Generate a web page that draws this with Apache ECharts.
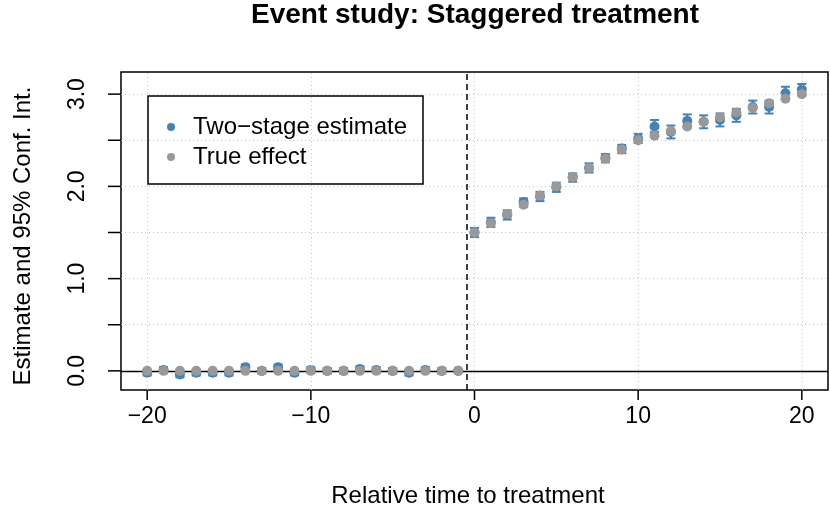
<!DOCTYPE html>
<html>
<head>
<meta charset="utf-8">
<title>Event study</title>
<script src="https://cdn.jsdelivr.net/npm/echarts@6/dist/echarts.min.js"></script>
<style>
  html, body { margin: 0; padding: 0; background: #fff; }
  #chart { width: 830px; height: 513px; }
</style>
</head>
<body>
<div id="chart"></div>
<script>
// relative periods -20 .. 20
const periods = [-20, -19, -18, -17, -16, -15, -14, -13, -12, -11, -10, -9, -8, -7, -6, -5, -4, -3, -2, -1,
  0, 1, 2, 3, 4, 5, 6, 7, 8, 9, 10, 11, 12, 13, 14, 15, 16, 17, 18, 19, 20]
// two-stage estimate
const estimate = [-0.02, 0.01, -0.04, -0.02, -0.02, -0.02, 0.04, 0.0, 0.04, -0.02,
  0.01, 0.0, 0.0, 0.02, 0.01, 0.0, -0.02, 0.01, 0.0, 0.0,
  1.50, 1.61, 1.69, 1.83, 1.89, 1.99, 2.10, 2.20, 2.31, 2.41,
  2.52, 2.65, 2.59, 2.71, 2.70, 2.72, 2.77, 2.86, 2.86, 3.01, 3.05]
// 95% confidence interval
const ciLow = [-0.05, -0.02, -0.07, -0.05, -0.05, -0.05, 0.01, -0.03, 0.01, -0.05,
  -0.02, -0.03, -0.03, -0.01, -0.02, -0.03, -0.05, -0.02, -0.03, null,
  1.45, 1.56, 1.64, 1.78, 1.84, 1.94, 2.05, 2.15, 2.26, 2.36,
  2.47, 2.59, 2.52, 2.64, 2.63, 2.65, 2.70, 2.79, 2.79, 2.95, 2.99]
const ciHigh = [0.01, 0.04, -0.01, 0.01, 0.01, 0.01, 0.07, 0.03, 0.07, 0.01,
  0.04, 0.03, 0.03, 0.05, 0.04, 0.03, 0.01, 0.04, 0.03, null,
  1.55, 1.66, 1.74, 1.87, 1.94, 2.04, 2.14, 2.25, 2.35, 2.45,
  2.57, 2.72, 2.66, 2.78, 2.77, 2.79, 2.84, 2.93, 2.93, 3.08, 3.11]
// true treatment effect
const trueEffect = [0, 0, 0, 0, 0, 0, 0, 0, 0, 0,
  0, 0, 0, 0, 0, 0, 0, 0, 0, 0,
  1.50, 1.60, 1.70, 1.80, 1.90, 2.00, 2.10, 2.20, 2.30, 2.40,
  2.50, 2.55, 2.60, 2.65, 2.70, 2.75, 2.80, 2.85, 2.90, 2.95, 3.00]
// axis ticks / labels
const xTicks = [-20, -10, 0, 10, 20]
const yTicks = [0, 0.5, 1, 1.5, 2, 2.5, 3]
const yLabels = [0, 1, 2, 3]

// plot box range (data units)
const X_MIN = -21.6
const X_MAX = 21.6
const Y_MIN = -0.208
const Y_MAX = 3.24
// axis range extends a little past the box so the tick marks sit inside the grid
const AXIS_X_MIN = -22.394
const AXIS_Y_MIN = -0.316

const BLUE = '#4682b4'
const GREY = '#999999'
const FONT = 'Liberation Sans'

const estData = periods.map((p, i) => [p, estimate[i]])
const trueData = periods.map((p, i) => [p, trueEffect[i]])
const ciData = periods.map((p, i) => [p, ciLow[i], ciHigh[i]]).filter(d => d[1] !== null)

// dotted grid segments, kept inside the box
const gridLines = [
  ...xTicks.map(v => [{ coord: [v, Y_MIN] }, { coord: [v, Y_MAX] }]),
  ...yTicks.filter(v => v !== 0).map(v => [{ coord: [X_MIN, v] }, { coord: [X_MAX, v] }])
]

const myChart = echarts.init(document.getElementById('chart'))
myChart.setOption({
  animation: false,
  textStyle: { fontFamily: FONT },
  title: {
    text: 'Event study: Staggered treatment',
    left: 475,
    top: 1,
    padding: 0,
    textAlign: 'center',
    textStyle: { fontSize: 28, fontWeight: 'bold', color: '#000', fontFamily: FONT }
  },
  grid: {
    left: 108,
    right: 2,
    top: 72,
    bottom: 111,
    show: false
  },
  legend: {
    data: ['Two\u2212stage estimate', 'True effect'],
    orient: 'vertical',
    left: 167,
    top: 115,
    padding: 0,
    itemGap: 6,
    itemWidth: 34,
    itemHeight: 8,
    icon: 'circle',
    textStyle: { fontSize: 24, color: '#000', fontFamily: FONT }
  },
  graphic: [{
    type: 'rect',
    shape: { x: 148, y: 96, width: 275, height: 88 },
    style: { fill: 'none', stroke: '#000', lineWidth: 1.5 },
    z: 10
  }],
  xAxis: {
    type: 'value',
    min: AXIS_X_MIN,
    max: X_MAX,
    name: 'Relative time to treatment',
    nameLocation: 'middle',
    nameGap: 84,
    nameTextStyle: { fontSize: 24, color: '#000', fontFamily: FONT, verticalAlign: 'top' },
    axisLine: { show: false, onZero: false },
    axisTick: { show: false },
    axisLabel: {
      show: true,
      customValues: xTicks,
      margin: 5,
      fontSize: 23,
      color: '#000',
      fontFamily: FONT,
      formatter: v => String(v).replace('-', '\u2212')
    },
    splitLine: { show: false }
  },
  yAxis: {
    type: 'value',
    min: AXIS_Y_MIN,
    max: Y_MAX,
    name: 'Estimate and 95% Conf. Int.',
    nameLocation: 'middle',
    nameGap: 73,
    nameTextStyle: { fontSize: 24, color: '#000', fontFamily: FONT },
    axisLine: { show: false, onZero: false },
    axisTick: { show: false },
    axisLabel: {
      show: true,
      customValues: yLabels,
      rotate: 90,
      margin: 19,
      fontSize: 23,
      color: '#000',
      fontFamily: FONT,
      formatter: v => v.toFixed(1)
    },
    splitLine: { show: false }
  },
  series: [
    {
      // dotted grid
      name: 'guides',
      type: 'line',
      data: [],
      silent: true,
      z: 1,
      markLine: {
        silent: true,
        symbol: 'none',
        label: { show: false },
        animation: false,
        lineStyle: { color: '#c4c4c4', type: [1, 3], width: 1 },
        data: gridLines
      }
    },
    {
      // plot box, zero line and treatment onset line
      name: 'refs',
      type: 'line',
      data: [],
      silent: true,
      z: 2,
      markArea: {
        silent: true,
        label: { show: false },
        itemStyle: { color: 'rgba(0,0,0,0)', borderColor: '#000', borderWidth: 1.5 },
        data: [[{ coord: [X_MIN, Y_MIN] }, { coord: [X_MAX, Y_MAX] }]]
      },
      markLine: {
        silent: true,
        symbol: 'none',
        label: { show: false },
        animation: false,
        data: [
          [{ coord: [X_MIN, 0] }, { coord: [X_MAX, 0], lineStyle: { color: '#000', type: 'solid', width: 1.3 } }],
          [{ coord: [-0.5, Y_MIN] }, { coord: [-0.5, Y_MAX], lineStyle: { color: '#000', type: [6, 4], width: 1.5 } }]
        ]
      }
    },
    {
      // x-axis tick marks below the box
      name: 'xticks',
      type: 'custom',
      silent: true,
      z: 20,
      data: xTicks.map(v => [v, 0]),
      renderItem(params, api) {
        const top = api.coord([api.value(0), Y_MIN])
        const bottom = api.coord([api.value(0), AXIS_Y_MIN])
        return {
          type: 'line',
          shape: { x1: top[0], y1: top[1], x2: bottom[0], y2: bottom[1] },
          style: { stroke: '#000', lineWidth: 1.5 }
        }
      }
    },
    {
      // y-axis tick marks left of the box
      name: 'yticks',
      type: 'custom',
      silent: true,
      z: 20,
      data: yTicks.map(v => [0, v]),
      renderItem(params, api) {
        const right = api.coord([X_MIN, api.value(1)])
        const left = api.coord([AXIS_X_MIN, api.value(1)])
        return {
          type: 'line',
          shape: { x1: left[0], y1: left[1], x2: right[0], y2: right[1] },
          style: { stroke: '#000', lineWidth: 1.5 }
        }
      }
    },
    {
      name: 'ci',
      type: 'custom',
      z: 3,
      data: ciData,
      renderItem(params, api) {
        const x = api.value(0)
        const lo = api.coord([x, api.value(1)])
        const hi = api.coord([x, api.value(2)])
        const w = 4.5
        const style = { stroke: BLUE, lineWidth: 2 }
        return {
          type: 'group',
          children: [
            { type: 'line', shape: { x1: lo[0], y1: lo[1], x2: hi[0], y2: hi[1] }, style },
            { type: 'line', shape: { x1: lo[0] - w, y1: lo[1], x2: lo[0] + w, y2: lo[1] }, style },
            { type: 'line', shape: { x1: hi[0] - w, y1: hi[1], x2: hi[0] + w, y2: hi[1] }, style }
          ]
        }
      }
    },
    {
      name: 'Two\u2212stage estimate',
      type: 'scatter',
      z: 4,
      symbol: 'circle',
      symbolSize: 10,
      itemStyle: { color: BLUE, opacity: 1 },
      data: estData
    },
    {
      name: 'True effect',
      type: 'scatter',
      z: 5,
      symbol: 'circle',
      symbolSize: 10,
      itemStyle: { color: GREY, opacity: 1 },
      data: trueData
    }
  ]
})
</script>
</body>
</html>
